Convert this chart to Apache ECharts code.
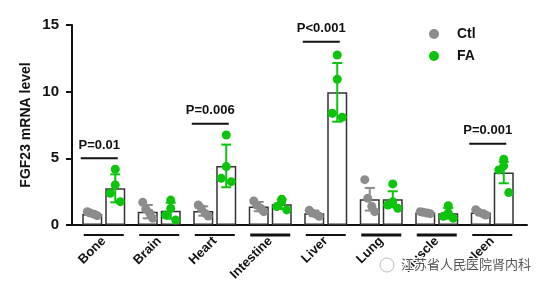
<!DOCTYPE html>
<html><head><meta charset="utf-8">
<script src="https://cdn.jsdelivr.net/npm/echarts@6/dist/echarts.min.js"></script>
<style>html,body{margin:0;padding:0;background:#fff}#c{width:548px;height:289px}</style>
</head><body><div id="c"></div>
<script>
const categories = ['Bone','Brain','Heart','Intestine','Liver','Lung','Muscle','Spleen'];
const ctlMean = [0.83, 1.0, 1.05, 1.38, 0.88, 1.93, 0.93, 0.93];
const ctlSD   = [0.12, 0.5, 0.35, 0.35, 0.2, 0.85, 0.08, 0.15];
const faMean  = [2.75, 1.07, 4.43, 1.55, 9.95, 1.93, 0.88, 3.93];
const faSD    = [1.05, 0.6, 1.6, 0.35, 2.2, 0.6, 0.4, 0.8];
const ctlPts = [[1.0,0.9,0.8,0.7],[1.7,1.2,0.9,0.5],[1.5,1.25,0.87,0.67],[1.8,1.5,1.25,1.0],
                [1.1,0.9,0.8,0.65],[3.4,2.0,1.4,1.0],[1.0,0.95,0.9,0.85],[1.15,0.95,0.85,0.75]];
const faPts  = [[4.18,3.0,2.38,1.75],[1.87,1.25,0.75,0.37],[6.75,4.38,3.5,3.25],[1.93,1.75,1.38,1.13],
                [12.75,10.93,8.38,8.08],[3.08,1.75,1.5,1.25],[1.45,0.9,0.65,0.5],[4.93,4.43,4.13,2.43]];
const sigGroups = [0, 2, 4, 7];
const sigLabels = ['P=0.01','P=0.006','P<0.001','P=0.001'];
const sigLevel  = [5.0, 7.6, 13.75, 6.1];
const yTicks = [0, 5, 10, 15];
const thickUnderline = [false,false,false,true,false,true,true,false];

const GRAY = '#8c8c8c', GREEN = '#0cc40c', INK = '#111';
const SIDE_OFF = 11.5;
const JIT_CTL = [-5, -2, 2, 5];
const JIT_FA = [0, 0, -5, 5];

function ptsData(pts){ const d=[]; pts.forEach((arr,i)=>arr.forEach((v,j)=>d.push([i,v,j]))); return d; }
function errData(m,s){ return m.map((v,i)=>[i,v,s[i]]); }

function pointRender(side, color, jit){
  return function(params, api){
    const c = api.coord([api.value(0), api.value(1)]);
    return {type:'circle', shape:{cx:c[0]+side*SIDE_OFF+jit[api.value(2)], cy:c[1], r:4.5},
      style:{fill:color}};
  };
}
function errRender(side, color){
  return function(params, api){
    const i=api.value(0), m=api.value(1), s=api.value(2);
    const top=api.coord([i,m+s]), bot=api.coord([i,Math.max(0,m-s)]);
    const x=top[0]+side*SIDE_OFF;
    const st={stroke:color, lineWidth:2};
    return {type:'group', children:[
      {type:'line', shape:{x1:x,y1:top[1],x2:x,y2:bot[1]}, style:st},
      {type:'line', shape:{x1:x-5,y1:top[1],x2:x+5,y2:top[1]}, style:st},
      {type:'line', shape:{x1:x-5,y1:bot[1],x2:x+5,y2:bot[1]}, style:st}
    ]};
  };
}

const chart = echarts.init(document.getElementById('c'));
chart.setOption({
  animation:false,
  backgroundColor:'#fff',
  grid:[
    {left:76, right:28, top:25, bottom:64},
    {left:72, right:21, top:25, bottom:64}
  ],
  legend:{
    orient:'vertical', left:424, top:22, itemGap:8, itemWidth:10, itemHeight:10,
    data:[{name:'Ctl', icon:'circle'},{name:'FA', icon:'circle'}],
    textStyle:{fontFamily:'Liberation Sans', fontWeight:'bold', fontSize:14, color:INK, padding:[0,0,0,13]}
  },
  xAxis:[
    {type:'category', gridIndex:0, data:categories,
     axisLine:{show:false}, axisTick:{show:false},
     axisLabel:{rotate:45, margin:14, interval:0, fontFamily:'Liberation Sans', fontWeight:'bold', fontSize:13, color:INK}},
    {type:'category', gridIndex:1, data:categories,
     axisLine:{show:true, lineStyle:{color:INK, width:2}}, axisTick:{show:false}, axisLabel:{show:false}}
  ],
  yAxis:[
    {type:'value', gridIndex:0, min:0, max:15, interval:5, show:false, splitLine:{show:false}},
    {type:'value', gridIndex:1, min:0, max:15, interval:5,
     name:'FGF23 mRNA level', nameLocation:'middle', nameGap:39, nameRotate:90, nameMoveOverlap:false,
     nameTextStyle:{fontFamily:'Liberation Sans', fontWeight:'bold', fontSize:14, color:INK},
     axisLine:{show:true, lineStyle:{color:INK, width:2}},
     axisTick:{show:true, length:6, lineStyle:{color:INK, width:2}},
     axisLabel:{margin:13, fontFamily:'Liberation Sans', fontWeight:'bold', fontSize:15, color:INK,
       customValues: yTicks},
     splitLine:{show:false}}
  ],
  series:[
    {type:'bar', name:'CtlBar', xAxisIndex:0, yAxisIndex:0, data:ctlMean, barWidth:20, barGap:'15%',
     itemStyle:{color:'#fff', borderColor:'#333', borderWidth:1.5}, z:2},
    {type:'bar', name:'FABar', xAxisIndex:0, yAxisIndex:0, data:faMean, barWidth:20, barGap:'15%',
     itemStyle:{color:'#fff', borderColor:'#333', borderWidth:1.5}, z:2},
    {type:'custom', name:'CtlErr', xAxisIndex:0, yAxisIndex:0, data:errData(ctlMean,ctlSD),
     renderItem:errRender(-1, GRAY), z:3},
    {type:'custom', name:'FAErr', xAxisIndex:0, yAxisIndex:0, data:errData(faMean,faSD),
     renderItem:errRender(1, GREEN), z:3},
    {type:'custom', name:'Ctl', xAxisIndex:0, yAxisIndex:0, data:ptsData(ctlPts),
     itemStyle:{color:GRAY}, renderItem:pointRender(-1, GRAY, JIT_CTL), z:4},
    {type:'custom', name:'FA', xAxisIndex:0, yAxisIndex:0, data:ptsData(faPts),
     itemStyle:{color:GREEN}, renderItem:pointRender(1, GREEN, JIT_FA), z:4},
    {type:'custom', name:'sig', xAxisIndex:0, yAxisIndex:0, clip:false,
     data:sigGroups.map((g,k)=>[g, sigLevel[k], k]),
     renderItem:function(params, api){
       const c=api.coord([api.value(0), api.value(1)]);
       const x1=c[0]-23, x2=c[0]+14, mid=(x1+x2)/2;
       return {type:'group', children:[
         {type:'line', shape:{x1:x1,y1:c[1],x2:x2,y2:c[1]}, style:{stroke:INK, lineWidth:2}},
         {type:'text', x:mid, y:c[1]-13, style:{text:sigLabels[api.value(2)], textAlign:'center', textVerticalAlign:'middle',
           font:'bold 13px "Liberation Sans"', fill:INK}}
       ]};
     }, z:5},
    {type:'custom', name:'under', xAxisIndex:0, yAxisIndex:0, clip:false,
     data:categories.map((c,i)=>[i,0]),
     renderItem:function(params, api){
       const i=api.value(0);
       const c=api.coord([i,0]);
       return {type:'line', shape:{x1:c[0]-20,y1:c[1]+10,x2:c[0]+20,y2:c[1]+10},
         style:{stroke:INK, lineWidth: thickUnderline[i]?3:2}};
     }, z:5}
  ],
  graphic:[
    {type:'text', left:400, top:257, style:{text:'江苏省人民医院肾内科', font:'13px "Noto Sans CJK SC"', fill:'#555',
      stroke:'#fff', lineWidth:2}, z:100},
    {type:'circle', shape:{cx:387, cy:265, r:7}, style:{fill:'none', stroke:'#bbb', lineWidth:1}, z:100}
  ]
});
</script></body></html>
